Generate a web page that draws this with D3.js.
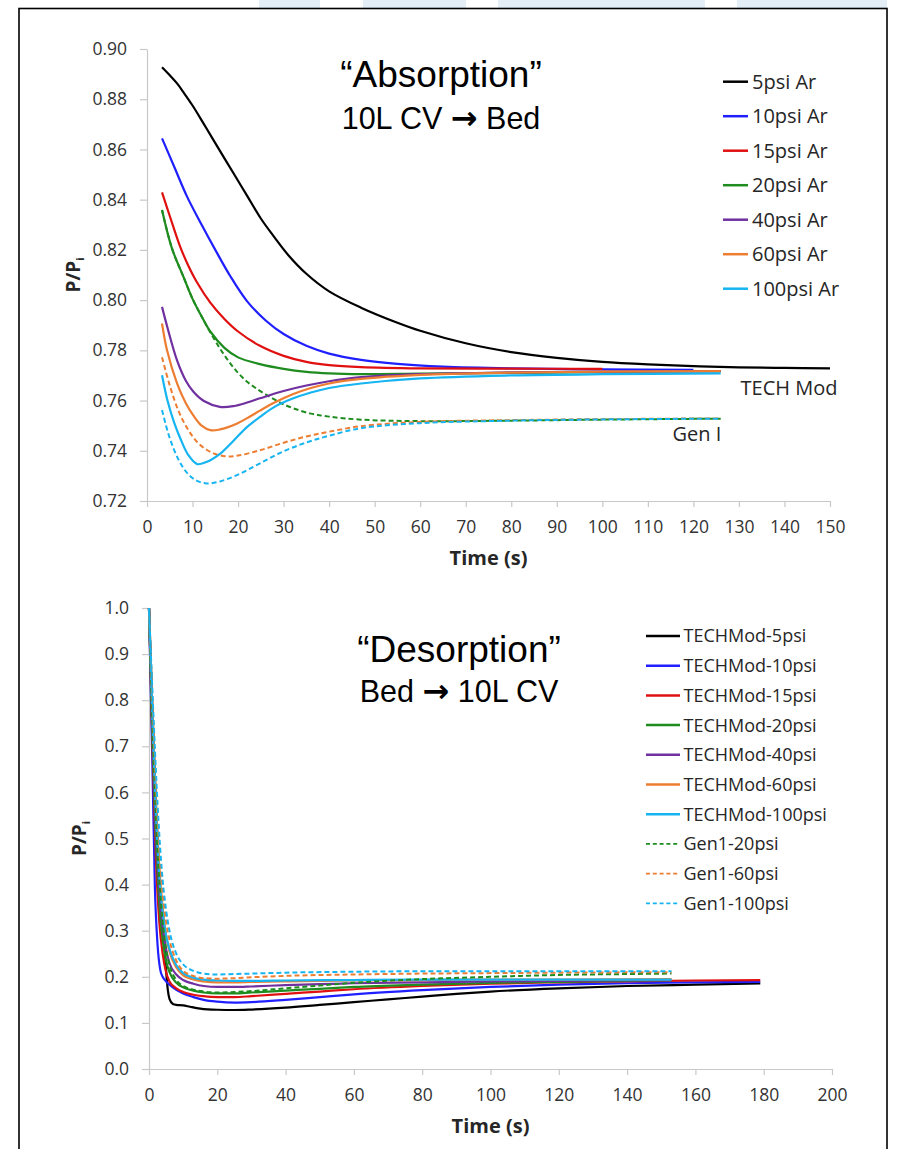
<!DOCTYPE html>
<html><head><meta charset="utf-8">
<script src="https://cdn.jsdelivr.net/npm/d3@7"></script>
<style>body{margin:0;background:#fff;} svg{display:block;}</style>
</head><body><svg id="c" width="903" height="1149"></svg>
<script>
// ---------- DATA: Absorption (top) ----------
const absXTicks = [0,10,20,30,40,50,60,70,80,90,100,110,120,130,140,150];
const absYTicks = [0.72,0.74,0.76,0.78,0.80,0.82,0.84,0.86,0.88,0.90];
const absNames = ["5psi Ar","10psi Ar","15psi Ar","20psi Ar","40psi Ar","60psi Ar","100psi Ar"];
const abs5 = [[3.3,.8927],[5,.8895],[6.6,.8863],[8,.8828],[10,.8775],[12.4,.8704],[15,.8625],[19,.8505],[22,.8415],[25,.8325],[28,.8250],[31,.8180],[35,.8105],[40,.8035],[47,.7970],[55,.7910],[60,.7878],[70,.7828],[80,.7793],[90,.7770],[100,.7754],[110,.7744],[120,.7737],[130,.7732],[140,.7730],[150,.7728]];
const abs10 = [[3.3,.8644],[6,.8530],[8.8,.8412],[12,.8300],[15,.8200],[18.3,.8095],[22,.7995],[26,.7920],[30,.7865],[35,.7818],[40,.7787],[47,.7762],[55,.7746],[65,.7735],[80,.7728],[100,.7724],[120,.7722]];
const abs15 = [[3.3,.8429],[5,.8335],[7.3,.8212],[9,.8140],[11,.8070],[13.9,.7990],[17,.7925],[20,.7875],[24.8,.7818],[30,.7778],[35,.7754],[40,.7741],[47,.7733],[60,.7728],[80,.7727],[100,.7726]];
const abs20 = [[3.3,.8359],[5.5,.8205],[8,.8093],[10,.8005],[12,.7935],[13.9,.7875],[17,.7810],[20,.7772],[24.8,.7745],[30,.7726],[35,.7714],[40,.7708],[47,.7705],[60,.7707],[80,.7710],[100,.7713],[126,.7717]];
const abs40 = [[3.3,.7973],[4.5,.7890],[6.6,.7760],[8.5,.7680],[10.2,.7635],[12.5,.7598],[16,.7575],[19,.7578],[22,.7592],[25,.7610],[30,.7638],[35,.7660],[40,.7677],[47,.7693],[60,.7705],[80,.7712],[100,.7715],[126,.7717]];
const abs60 = [[3.3,.7907],[4.4,.7800],[6.6,.7668],[8.5,.7590],[10.2,.7540],[12,.7500],[13.9,.7482],[16,.7485],[19.7,.7508],[22,.7530],[24.8,.7560],[28,.7592],[32,.7625],[36,.7650],[40,.7668],[47,.7686],[60,.7702],[80,.7711],[100,.7715],[126,.7717]];
const abs100 = [[3.3,.7701],[4.5,.7600],[6,.7510],[7.3,.7450],[9,.7385],[11,.7347],[13,.7355],[16.1,.7389],[19,.7440],[22,.7495],[24.8,.7535],[28,.7575],[32,.7608],[36,.7632],[40,.7650],[47,.7668],[60,.7688],[80,.7700],[100,.7705],[126,.7708]];
const absGen20 = [[3.3,.8359],[5.5,.8205],[8,.8093],[10,.8005],[12,.7935],[13.9,.7872],[16,.7808],[18,.7755],[20,.7710],[22,.7675],[24,.7648],[26.3,.7622],[29,.7594],[32,.7570],[36,.7548],[40,.7536],[47,.7524],[60,.7518],[80,.7520],[100,.7524],[126,.7528]];
const absGen60 = [[3.3,.7772],[5,.7660],[7,.7555],[9,.7485],[11,.7435],[13,.7405],[15,.7387],[17.5,.7378],[20,.7381],[24.8,.7402],[30,.7432],[35,.7457],[40,.7476],[47,.7498],[60,.7515],[80,.7522],[100,.7526],[126,.7529]];
const absGen100 = [[3.3,.7562],[5,.7450],[7,.7362],[9,.7308],[11,.7280],[13.2,.7270],[16,.7278],[20,.7305],[24.8,.7350],[30,.7398],[35,.7433],[40,.7460],[47,.7490],[60,.7510],[80,.7520],[100,.7525],[126,.7528]];

// ---------- DATA: Desorption (bottom) ----------
const desXTicks = [0,20,40,60,80,100,120,140,160,180,200];
const desYTicks = [0,0.1,0.2,0.3,0.4,0.5,0.6,0.7,0.8,0.9,1.0];
const desNames = ["TECHMod-5psi","TECHMod-10psi","TECHMod-15psi","TECHMod-20psi","TECHMod-40psi","TECHMod-60psi","TECHMod-100psi","Gen1-20psi","Gen1-60psi","Gen1-100psi"];
const des5 = [[0,1],[1,.78],[2,.58],[3,.42],[4,.31],[4.5,.27],[5,.215],[5.5,.172],[6,.152],[7,.141],[8,.139],[10,.138],[12,.135],[15,.131],[20,.1285],[25,.128],[30,.129],[40,.133],[50,.139],[60,.145],[70,.151],[80,.157],[90,.163],[100,.168],[120,.175],[140,.180],[160,.183],[179,.1855]];
const des10 = [[0,1],[1,.66],[1.7,.40],[2.5,.27],[3.3,.215],[4,.200],[5,.190],[6,.183],[8,.172],[10,.164],[13,.156],[16,.150],[20,.146],[25,.144],[30,.145],[40,.150],[50,.156],[60,.162],[80,.171],[100,.178],[120,.183],[140,.186],[160,.188],[179,.189]];
const des15 = [[0,1],[1,.70],[2,.46],[3,.32],[4,.25],[5,.21],[6,.19],[8,.175],[10,.167],[13,.161],[16,.158],[20,.156],[25,.156],[30,.158],[40,.163],[50,.168],[60,.173],[80,.180],[100,.185],[120,.188],[140,.190],[160,.192],[179,.193]];
const des20 = [[0,1],[1,.72],[2,.50],[3,.36],[4,.28],[5,.235],[6,.21],[8,.187],[10,.177],[13,.170],[16,.166],[20,.164],[25,.164],[30,.166],[40,.170],[50,.174],[60,.178],[80,.183],[100,.187],[120,.189],[140,.191],[153,.192]];
const des40 = [[0,1],[1,.74],[2,.53],[3,.39],[4,.31],[5,.26],[6,.23],[8,.205],[10,.193],[13,.185],[16,.180],[20,.178],[25,.178],[30,.179],[40,.182],[50,.184],[60,.186],[80,.188],[100,.190],[120,.191],[140,.192],[153,.192]];
const des60 = [[0,1],[1,.78],[2,.58],[3,.44],[4,.35],[5,.29],[6,.255],[8,.22],[10,.203],[13,.194],[16,.19],[20,.188],[25,.188],[30,.189],[40,.190],[60,.192],[80,.193],[100,.194],[120,.194],[153,.195]];
const des100 = [[0,1],[1,.76],[2,.56],[3,.42],[4,.34],[5,.29],[6,.26],[8,.225],[10,.208],[13,.198],[16,.194],[20,.192],[25,.191],[30,.191],[40,.192],[60,.193],[80,.194],[100,.194],[120,.194],[153,.194]];
const desGen20 = [[0,1],[1,.75],[2,.55],[3,.41],[4,.32],[5,.26],[6,.225],[8,.193],[10,.18],[13,.172],[16,.168],[20,.166],[25,.167],[30,.169],[40,.175],[50,.181],[60,.187],[80,.195],[100,.200],[120,.204],[140,.206],[153,.207]];
const desGen60 = [[0,1],[1,.80],[2,.62],[3,.48],[4,.38],[5,.32],[6,.28],[8,.235],[10,.213],[13,.202],[16,.197],[20,.196],[25,.197],[30,.199],[40,.202],[60,.205],[80,.207],[100,.208],[120,.209],[153,.210]];
const desGen100 = [[0,1],[1,.82],[2,.65],[3,.51],[4,.41],[5,.345],[6,.30],[8,.25],[10,.227],[13,.213],[16,.207],[20,.205],[25,.206],[30,.207],[40,.209],[60,.211],[80,.212],[100,.212],[120,.212],[153,.212]];

// ---------- STYLE ----------
const COL = {k:"#000000", b:"#1f1fff", r:"#e01010", g:"#1e8c1e", p:"#7030a0", o:"#ed7d31", c:"#16b4f0"};
const FONT = "'Open Sans', sans-serif";
const TFONT = "'Liberation Sans', Arial, sans-serif";

const svg = d3.select("#c");
[[259,320],[363,466],[498,705],[737,887]].forEach(([a,b])=>{
  svg.append("rect").attr("x",a).attr("y",0).attr("width",b-a).attr("height",8).attr("fill","#e3eef7");
});
svg.append("rect").attr("x",19).attr("y",8.5).attr("width",868).attr("height",1160)
  .attr("fill","#fff").attr("stroke","#000").attr("stroke-width",1.6);

function drawPanel(cfg){
  const x = d3.scaleLinear().domain(cfg.xd).range(cfg.xr);
  const y = d3.scaleLinear().domain(cfg.yd).range(cfg.yr);
  const g = svg.append("g");
  const ya = g.append("g").attr("transform",`translate(${cfg.xr[0]},0)`)
    .call(d3.axisLeft(y).tickValues(cfg.yt).tickFormat(d3.format(cfg.yf)).tickSize(7).tickPadding(13).tickSizeOuter(0));
  const xa = g.append("g").attr("transform",`translate(0,${cfg.yr[0]})`)
    .call(d3.axisBottom(x).tickValues(cfg.xt).tickFormat(d3.format("d")).tickSize(6).tickPadding(14).tickSizeOuter(0));
  [ya,xa].forEach(a=>{
    a.selectAll("path,line").attr("stroke","#c8c8c8").attr("stroke-width",1.2);
    a.selectAll("text").attr("font-family",FONT).attr("font-size",17.5).attr("fill","#333");
  });
  g.append("text").attr("x",(cfg.xr[0]+cfg.xr[1])/2).attr("y",cfg.yr[0]+64)
    .attr("text-anchor","middle").attr("font-family",FONT).attr("font-weight","bold")
    .attr("font-size",20).attr("fill","#262626").text("Time (s)");
  const yl = g.append("text").attr("transform",`translate(${cfg.ylx},${(cfg.yr[0]+cfg.yr[1])/2}) rotate(-90)`)
    .attr("text-anchor","middle").attr("font-family",FONT).attr("font-weight","bold")
    .attr("font-size",19).attr("fill","#262626");
  yl.append("tspan").text("P/P");
  yl.append("tspan").attr("font-size",11).attr("dy",4).text("i");
  const line = d3.line().x(d=>x(d[0])).y(d=>y(d[1])).curve(cfg.curve);
  cfg.series.forEach(s=>{
    g.append("path").datum(s.data).attr("d",line).attr("fill","none")
      .attr("stroke",s.c).attr("stroke-width",s.dash?2:2.2)
      .attr("stroke-dasharray",s.dash?"5,3":null).attr("stroke-linejoin","round");
  });
  return {x,y,g};
}

function title(x,y1,y2,t1,a,b){
  svg.append("text").attr("x",x).attr("y",y1).attr("text-anchor","middle").attr("font-family",TFONT).attr("font-size",37).attr("fill","#000").text(t1);
  const t = svg.append("text").attr("x",x).attr("y",y2).attr("text-anchor","middle").attr("font-family",TFONT).attr("font-size",30.5).attr("fill","#000");
  t.append("tspan").text(a+" ");
  t.append("tspan").attr("font-family","'DejaVu Sans', sans-serif").attr("font-weight","bold").attr("font-size",32).text("\u2192");
  t.append("tspan").text(" "+b);
}

// ---------- TOP PANEL ----------
const topSeries = [
  {data:absGen20,c:COL.g,dash:true},{data:absGen60,c:COL.o,dash:true},{data:absGen100,c:COL.c,dash:true},
  {data:abs5,c:COL.k},{data:abs10,c:COL.b},{data:abs15,c:COL.r},{data:abs20,c:COL.g},
  {data:abs40,c:COL.p},{data:abs60,c:COL.o},{data:abs100,c:COL.c}
];
drawPanel({xd:[0,150],xr:[147,830],yd:[0.72,0.90],yr:[501,49],xt:absXTicks,yt:absYTicks,yf:".2f",ylx:80,series:topSeries,curve:d3.curveCatmullRom.alpha(0.5)});
const topCols = [COL.k,COL.b,COL.r,COL.g,COL.p,COL.o,COL.c];
absNames.forEach((n,i)=>{
  const yy = 81.7 + i*34.5;
  svg.append("line").attr("x1",723).attr("x2",748).attr("y1",yy).attr("y2",yy).attr("stroke",topCols[i]).attr("stroke-width",2.5);
  svg.append("text").attr("x",752).attr("y",yy).attr("dy","0.36em").attr("font-family",FONT).attr("font-size",20).attr("fill","#262626").text(n);
});
svg.append("text").attr("x",740.5).attr("y",395).attr("font-family",FONT).attr("font-size",20).attr("fill","#262626").text("TECH Mod");
svg.append("text").attr("x",672.5).attr("y",440.5).attr("font-family",FONT).attr("font-size",20).attr("fill","#262626").text("Gen I");
title(441,87,129,"\u201CAbsorption\u201D","10L CV","Bed");

// ---------- BOTTOM PANEL ----------
const botSeries = [
  {data:des5,c:COL.k},{data:des10,c:COL.b},{data:des15,c:COL.r},{data:des20,c:COL.g},
  {data:des40,c:COL.p},{data:des60,c:COL.o},{data:des100,c:COL.c},
  {data:desGen20,c:COL.g,dash:true},{data:desGen60,c:COL.o,dash:true},{data:desGen100,c:COL.c,dash:true}
];
drawPanel({xd:[0,200],xr:[149,832],yd:[0,1],yr:[1069,608],xt:desXTicks,yt:desYTicks,yf:".1f",ylx:86,series:botSeries,curve:d3.curveMonotoneX});
const botCols = [COL.k,COL.b,COL.r,COL.g,COL.p,COL.o,COL.c,COL.g,COL.o,COL.c];
desNames.forEach((n,i)=>{
  const yy = 636 + i*29.7;
  svg.append("line").attr("x1",646).attr("x2",680).attr("y1",yy).attr("y2",yy).attr("stroke",botCols[i])
    .attr("stroke-width",i>=7?1.8:2.5).attr("stroke-dasharray",i>=7?"4,2.8":null);
  svg.append("text").attr("x",683.5).attr("y",yy).attr("dy","0.36em").attr("font-family",FONT).attr("font-size",18).attr("fill","#262626").text(n);
});
title(459,662,702,"\u201CDesorption\u201D","Bed","10L CV");
</script></body></html>
